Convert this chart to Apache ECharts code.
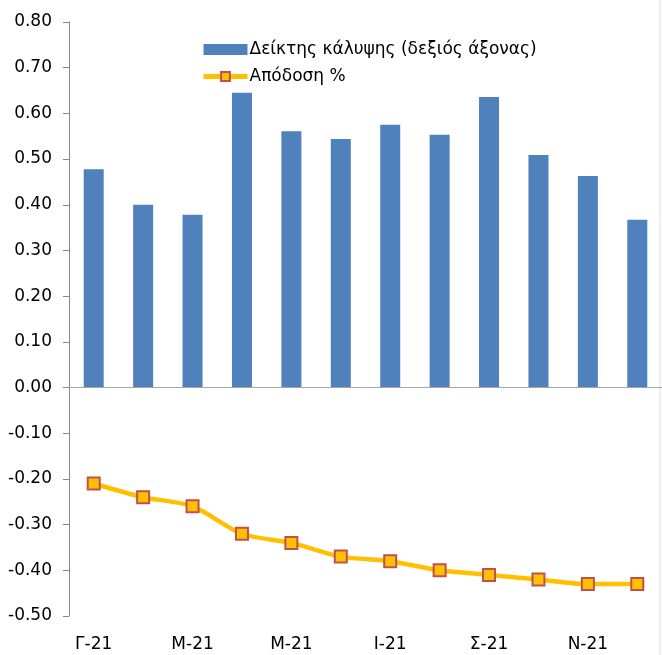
<!DOCTYPE html>
<html>
<head>
<meta charset="utf-8">
<script src="https://cdn.jsdelivr.net/npm/echarts@6/dist/echarts.min.js"></script>
<style>
html,body{margin:0;padding:0;background:#fff;}
#chart{width:662px;height:655px;}
</style>
</head>
<body>
<div id="chart"></div>
<script>
const categories = ["Γ-21","Φ-21","Μ-21","Α-21","Μ-21","Ι-21","Ι-21","Α-21","Σ-21","Ο-21","Ν-21","Δ-21"];
const coverageRatio = [0.478, 0.400, 0.378, 0.645, 0.561, 0.544, 0.575, 0.553, 0.636, 0.509, 0.463, 0.367];
const yieldPct = [-0.21, -0.24, -0.26, -0.32, -0.34, -0.37, -0.38, -0.40, -0.41, -0.42, -0.43, -0.43];
const seriesNames = ["Δείκτης κάλυψης (δεξιός άξονας)", "Απόδοση %"];

const chart = echarts.init(document.getElementById('chart'), null, {renderer:'canvas'});
chart.setOption({
  animation: false,
  backgroundColor: '#ffffff',
  grid: { left: 69, top: 22, width: 594, bottom: 39, containLabel: false },
  legend: {
    orient: 'vertical',
    left: 196, top: 36,
    itemWidth: 44, itemHeight: 11, itemGap: 10,
    textStyle: { fontFamily: 'DejaVu Sans', fontSize: 17, color: '#000', lineHeight: 17, padding: [0,0,0,-3] },
    data: [
      { name: seriesNames[0], icon: 'rect' },
      { name: seriesNames[1], lineStyle: { width: 5, color: '#FFC000' },
        itemStyle: { color: '#FFC000', borderColor: '#C0504D', borderWidth: 2 } }
    ]
  },
  xAxis: {
    type: 'category',
    data: categories,
    axisLine: { show: false, onZero: false },
    axisTick: { show: false },
    axisLabel: { interval: 1, margin: 20, fontFamily: 'DejaVu Sans', fontSize: 17, color: '#000' },
    splitLine: { show: false }
  },
  yAxis: {
    type: 'value',
    min: -0.5, max: 0.8, interval: 0.1,
    axisLine: { show: true, lineStyle: { color: '#868686', width: 1 } },
    axisTick: { show: true, inside: false, length: 6, lineStyle: { color: '#868686' } },
    axisLabel: { margin: 17, fontFamily: 'DejaVu Sans', fontSize: 17, color: '#000',
      formatter: v => v.toFixed(2) },
    splitLine: { show: false }
  },
  series: [
    {
      name: seriesNames[0],
      type: 'bar',
      data: coverageRatio,
      barWidth: 20,
      itemStyle: { color: '#4F81BD' },
      markLine: {
        silent: true, symbol: 'none', label: { show: false },
        lineStyle: { color: '#A6A6A6', width: 1, type: 'solid' },
        data: [{ yAxis: 0 }]
      }
    },
    {
      name: seriesNames[1],
      type: 'line',
      data: yieldPct,
      smooth: 0.3,
      symbol: 'rect',
      symbolSize: 12,
      lineStyle: { color: '#FFC000', width: 4.5 },
      itemStyle: { color: '#FFC000', borderColor: '#C0504D', borderWidth: 2 },
      z: 3
    }
  ],
  graphic: [
    { type: 'line', shape: { x1: 660, y1: 0, x2: 660, y2: 655 }, style: { stroke: '#E0E0E0', lineWidth: 1 } }
  ]
});
</script>
</body>
</html>
